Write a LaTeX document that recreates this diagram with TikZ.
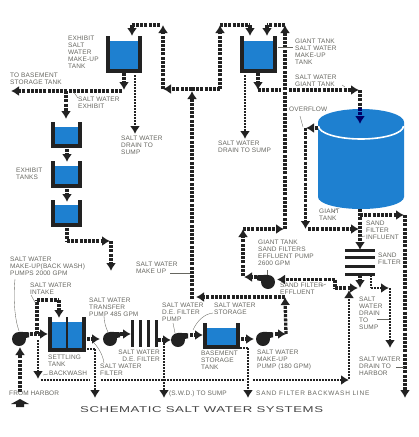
\documentclass[tikz,border=0pt]{standalone}
\usepackage{fontspec}
\setmainfont[LetterSpace=2]{Liberation Sans}
\newfontfamily\titlefont[FakeStretch=1.55,LetterSpace=7]{Liberation Sans}
\usetikzlibrary{arrows.meta,positioning,calc}
\definecolor{water}{HTML}{1E80D0}
\definecolor{pipecol}{HTML}{222222}
\definecolor{labelcol}{HTML}{666660}
\tikzset{
  pipe/.style={pipecol,line width=3.3pt,dash pattern=on 3pt off 1.2pt},
  pipeto/.style={pipe,-{Latex[length=8pt,width=10pt]}},
  drain/.style={pipecol,line width=1.8pt,dash pattern=on 1.7pt off 1.3pt},
  drainto/.style={drain,-{Latex[length=8pt,width=10pt]}},
  leader/.style={labelcol,line width=0.35pt},
  lbl/.style={anchor=north west,inner sep=0pt,align=left,text=labelcol,font=\fontsize{6.5}{6.9}\selectfont},
  pumpbody/.style={circle,fill=pipecol,inner sep=0pt,minimum size=14pt},
}
\begin{document}
\begin{tikzpicture}[x=1pt,y=-1pt]
\useasboundingbox (0,0) rectangle (419,437);
% giant tank
\fill[water] (318,122) -- (318,197) arc[start angle=180,end angle=0,x radius=43,y radius=12] -- (404,122) arc[start angle=0,end angle=-180,x radius=43,y radius=13] -- cycle;
\draw[white,line width=1.6pt] (318.5,126) arc[start angle=180,end angle=0,x radius=42.5,y radius=13];
% tanks: name / left / top / right / bottom / water top
\foreach \n/\xa/\ya/\xb/\yb/\yw in {makeupa/106/36/142/73/41,makeupb/240/36/277/73/41,exhibita/51/122/82/148/127,exhibitb/51/161/82/188/166,exhibitc/51/200/82/227/205,settling/48/317/86/352/322,basement/203/323/240/349/328}{
  \fill[water] (\xa,\yw) rectangle (\xb,\yb);
  \draw[pipecol,line width=4pt,line join=miter] ($(\xa,\ya)+(2,0)$) -- ($(\xa,\yb)+(2,-2)$) -- ($(\xb,\yb)+(-2,-2)$) -- ($(\xb,\ya)+(-2,0)$);
}
\draw[pipecol,line width=2.6pt] (67,317) -- (67,350);
% filters
\foreach \x in {132,140,148,156}
  \draw[pipecol,line width=3pt] (\x,320) -- (\x,347);
\foreach \y in {250,257.5,266,274}
  \draw[pipecol,line width=3pt] (345,\y) -- (375,\y);
% pumps
\node[pumpbody] (pumpa) at (19,339) {};
\node[pumpbody] (pumpb) at (110,339) {};
\node[pumpbody] (pumpc) at (178,340) {};
\node[pumpbody] (pumpd) at (263,339) {};
\node[pumpbody] (pumpe) at (268,282) {};
\foreach \p in {pumpa,pumpb,pumpc,pumpd}
  \fill[pipecol] (\p.north) -- ++(10,0.5) -- ++(0,5) -- ++(-10,2) -- cycle;
\fill[pipecol] (pumpe.north) -- ++(-11,0.5) -- ++(0,5) -- ++(11,2) -- cycle;
% pipe junctions
\foreach \n/\x/\y in {ma/124/73,mb/124/90,mc/122/91,md/11/91,me/66/91,mf/66/119,
  ea/67/149,eb/67/162,ec/67/189,ed/67/202,ee/67/228,ef/67/241,eg/110/241,eh/111/241,ei/111/271,
  ra/192/299,rb/192/91,rc/192/89,rd/163/89,re/163/25,rf/160/25,rg/132/25,rh/132/36,
  ri/220/89,rj/220/25,rk/250/25,rl/250/36,
  sa/275/334,sb/286/334,sc/285/297,sd/196/297,
  ga/285/229,gb/285/25,gc/267/25,gd/267/36,
  ha/258/73,hb/258/90,hc/258/90,hd/360/90,he/359/90,hf/281/90,hg/360/108,hh/360/124,hi/289/90,
  oa/318/128,ob/306/128,oc/305.5/229,od/308/229,oe/359/229,of/305.5/128,
  ta/360/209,tb/360/250,tc/360/215,td/404/215,te/405/215,tf/405/398,
  ua/360/275,ub/360/288,
  va/243/276,vb/243/229,vd/284/229,ve/257/277,vf/244/277,
  wa/277/279.5,wb/335/279.5,wc/335/288,wd/358/288}{
  \coordinate (\n) at (\x,\y);
}
\foreach \n/\x/\y in {xa/20/392,xb/20/347,ya/30/334,yb/48/334,yc/37/334,yd/37/300,ye/59/300,yf/59/318,
  za/87/339,zb/100/339,zc/120/334,zd/131/334,
  fa/158/340,fb/171/340,fc/190/335,fd/203/335,
  ba/241/339,bb/254/339,
  da/135/75,db/135/134,dc/245/75,dd/245/139,
  ka/38/340,kb/38/379,kc/41/380,kd/90/380,ke/101/380,kf/245/380,kg/253/380,kh/349/380,ki/349/379,kj/349/290,
  la/87/349,lb/95/349,lc/95/398,ld/164/340,le/164/398,lf/240/348,lg/248/348,lh/248/398,
  na/371/275,nb/371/288,nc/389/288,nd/390/288,ne/390/348}{
  \coordinate (\n) at (\x,\y);
}
% exhibit side
\draw[pipeto] (ma) -- (mb);
\draw[pipeto] (mc) -- (md);
\draw[pipeto] (me) -- (mf);
\draw[pipeto] (ea) -- (eb);
\draw[pipeto] (ec) -- (ed);
\draw[pipe] (ee) -- (ef);
\draw[pipeto] (ef) -- (eg);
\draw[pipeto] (eh) -- (ei);
% make up line
\draw[pipeto] (sa) -- (sb);
\draw[pipeto] (sb) -- (sc);
\draw[pipeto] (sc) -- (sd);
\draw[pipeto] (ra) -- (rb);
\draw[pipeto] (rc) -- (rd);
\draw[pipeto] (rd) -- (re);
\draw[pipe] (rf) -- (rg);
\draw[pipeto] (rg) -- (rh);
\draw[pipe] (rc) -- (ri);
\draw[pipeto] (ri) -- (rj);
\draw[pipe] (rj) -- (rk);
\draw[pipeto] (rk) -- (rl);
% giant tank side
\draw[pipeto] (ga) -- (gb);
\draw[pipe] (gb) -- (gc);
\draw[pipeto] (gc) -- (gd);
\draw[pipeto] (ha) -- (hb);
\draw[pipe] (hc) -- (hf);
\draw[pipeto] (hi) -- (he);
\draw[pipe] (hd) -- (hg);
\draw[pipeto,blue!40!black] (hg) -- (hh);
\draw[pipeto] (oa) -- (ob);
\draw[pipeto] (of) -- (oc);
\draw[pipeto] (od) -- (oe);
\draw[pipeto] (ta) -- (tb);
\draw[pipeto] (tc) -- (td);
\draw[pipeto] (te) -- (tf);
\draw[pipeto] (ua) -- (ub);
\draw[pipeto] (ve) -- (vf);
\draw[pipeto] (va) -- (vb);
\draw[pipeto] (vb) -- (vd);
\draw[pipeto] (wb) -- (wa);
\draw[pipe] (wb) -- (wc);
\draw[pipeto] (wc) -- (wd);
% bottom line
\draw[pipeto] (xa) -- (xb);
\draw[pipeto] (ya) -- (yb);
\draw[pipe] (yc) -- (yd);
\draw[pipe] (yd) -- (ye);
\draw[pipeto] (ye) -- (yf);
\draw[pipeto] (za) -- (zb);
\draw[pipeto] (zc) -- (zd);
\draw[pipeto] (fa) -- (fb);
\draw[pipeto] (fc) -- (fd);
\draw[pipeto] (ba) -- (bb);
\fill[pipecol] (20,399) -- (11,404) -- (16,404) -- (16,407) -- (24,407) -- (24,404) -- (29,404) -- cycle;
% drains
\draw[drainto] (da) -- (db);
\draw[drainto] (dc) -- (dd);
\draw[drainto] (ka) -- (kb);
\draw[drain] (kc) -- (kd);
\draw[drain] (ke) -- (kf);
\draw[drainto] (kg) -- (kh);
\draw[drainto] (ki) -- (kj);
\draw[drain] (la) -- (lb);
\draw[drainto] (lb) -- (lc);
\draw[drainto] (ld) -- (le);
\draw[drain] (lf) -- (lg);
\draw[drainto] (lg) -- (lh);
\draw[drain] (na) -- (nb);
\draw[drainto] (nb) -- (nc);
\draw[drainto] (nd) -- (ne);
% labels
\node[lbl] (lexa) at (68,36) {EXHIBIT\\SALT\\WATER\\MAKE-UP\\TANK};
\node[lbl] (lbas) at (10,73) {TO BASEMENT\\STORAGE TANK};
\node[lbl] (lexb) at (78,97) {SALT WATER\\EXHIBIT};
\node[lbl] (ldra) at (121,136) {SALT WATER\\DRAIN TO\\SUMP};
\node[lbl] (lext) at (16,168) {EXHIBIT\\TANKS};
\node[lbl] (lgia) at (295,39) {GIANT TANK\\SALT WATER\\MAKE-UP\\TANK};
\node[lbl] (lgib) at (295,75) {SALT WATER\\GIANT TANK};
\node[lbl] (lovr) at (289,107) {OVERFLOW};
\node[lbl] (ldrb) at (218,141) {SALT WATER\\DRAIN TO SUMP};
\node[lbl] (lgit) at (319,209) {GIANT\\TANK};
\node[lbl] (linf) at (366,221) {SAND\\FILTER\\INFLUENT};
\node[lbl] (lsfl) at (378,253) {SAND\\FILTER};
\node[lbl] (lgpm) at (258,240) {GIANT TANK\\SAND FILTERS\\EFFLUENT PUMP\\2600 GPM};
\node[lbl] (leff) at (280,283) {SAND FILTER\\EFFLUENT};
\node[lbl] (ldrc) at (359,297) {SALT\\WATER\\DRAIN\\TO\\SUMP};
\node[lbl] (ldrd) at (359,357) {SALT WATER\\DRAIN TO\\HARBOR};
\node[lbl,font=\fontsize{6.5}{6.9}\selectfont\addfontfeature{LetterSpace=12}] (lback) at (256,391) {SAND FILTER BACKWASH LINE};
\node[lbl] (lsto) at (214,303) {SALT WATER\\STORAGE};
\node[lbl] (lbst) at (201,351) {BASEMENT\\STORAGE\\TANK};
\node[lbl] (lmup) at (257,350) {SALT WATER\\MAKE-UP\\PUMP (180 GPM)};
\node[lbl] (lmak) at (136,262) {SALT WATER\\MAKE UP};
\node[lbl] (lswd) at (169,391) {(S.W.D.) TO SUMP};
\node[lbl] (lhar) at (9,391) {FROM HARBOR};
\node[lbl] (lpma) at (10,257) {SALT WATER\\MAKE-UP(BACK WASH)\\PUMPS 2000 GPM};
\node[lbl] (lint) at (30,283) {SALT WATER\\INTAKE};
\node[lbl] (ltra) at (89,298) {SALT WATER\\TRANSFER\\PUMP 485 GPM};
\node[lbl] (lset) at (48,355) {SETTLING\\TANK};
\node[lbl] (lbkw) at (49,371) {BACKWASH};
\node[lbl,align=right,anchor=north east] (ldef) at (160,350) {SALT WATER\\D.E. FILTER};
\node[lbl] (lfil) at (100,364) {SALT WATER\\FILTER};
\node[lbl] (ldep) at (162,303) {SALT WATER\\D.E. FILTER\\PUMP};
\node[pipecol!85,anchor=west,inner sep=0pt,font=\titlefont\fontsize{8.5}{9}\selectfont] (ltit) at (80,410) {SCHEMATIC SALT WATER SYSTEMS};
% leaders
\foreach \n/\xa/\ya/\xb/\yb in {pa/73/91/78/98,pb/278/47/293/47,pc/300/116/303/127,pd/345/87/342/85,pe/31/295/36/304,
  pf/173/323/175/333,pg/170/273/190/273,ph/377/319/389/319,pi/396/367/404/367,pj/43/375/48/374,
  pk/321/286/326/284,pl/358/237/365/236,pm/332/212/337/209,pn/267/270/267/275}{
  \coordinate (\n a) at (\xa,\ya);
  \coordinate (\n b) at (\xb,\yb);
  \draw[leader] (\n a) -- (\n b);
}
\coordinate (qa) at (15,279);
\coordinate (qb) at (19,331);
\coordinate (qc) at (104,316);
\coordinate (qd) at (108,332);
\coordinate (qe) at (104,363);
\coordinate (qf) at (94,343);
\coordinate (qg) at (213,313);
\coordinate (qh) at (193,330);
\draw[leader] (qa) .. controls (13,300) and (15,320) .. (qb);
\draw[leader] (qc) .. controls (104,322) and (106,328) .. (qd);
\draw[leader] (qe) .. controls (103,355) and (98,347) .. (qf);
\draw[leader] (qg) .. controls (204,314) and (197,321) .. (qh);
\end{tikzpicture}
\end{document}
